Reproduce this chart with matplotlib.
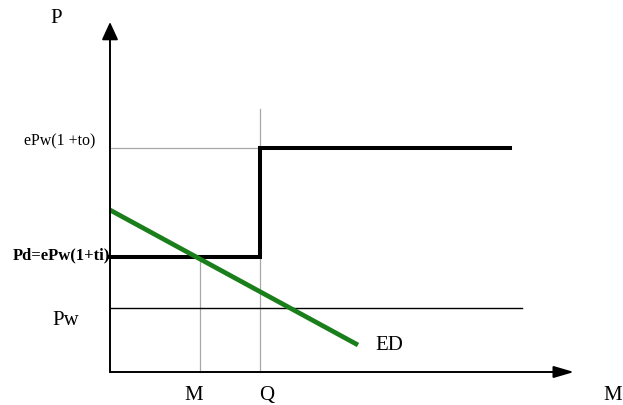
import matplotlib
matplotlib.use("Agg")
import matplotlib.pyplot as plt

# --- data (schematic units) ---
P_world = 6.4          # Pw
P_domestic = 11.5      # Pd = ePw(1+ti)
P_upper = 22.4         # ePw(1+to)
M_qty = 9.0            # M
Q_qty = 15.0           # Q
step_end = 40.0        # end of upper step
pw_end = 41.2          # end of Pw line
ed_x = [0.0, 24.8]     # excess demand line
ed_y = [16.2, 2.7]
x_axis_end = 46.4
y_axis_end = 35.0
q_line_top = 26.3

serif = ["Liberation Serif", "DejaVu Serif"]

fig = plt.figure(figsize=(6.23, 4.05), dpi=100)
ax = fig.add_axes([0, 0, 1, 1])
ax.set_xlim(-11.0, 51.3)
ax.set_ylim(-3.3, 37.2)
ax.axis("off")

grey = "#a8a8a8"
# guide lines
ax.plot([0, Q_qty], [P_upper, P_upper], color=grey, lw=0.9, zorder=1)
ax.plot([Q_qty, Q_qty], [0, q_line_top], color=grey, lw=0.9, zorder=1)
ax.plot([M_qty, M_qty], [0, P_domestic], color=grey, lw=0.9, zorder=1)

# Pw line
ax.plot([0, pw_end], [P_world, P_world], color="black", lw=1.0, zorder=2)

# step supply
ax.plot([0, Q_qty, Q_qty, step_end], [P_domestic, P_domestic, P_upper, P_upper],
        color="black", lw=2.9, solid_joinstyle="miter", zorder=3)

# ED line
ax.plot(ed_x, ed_y, color="#1a7f1a", lw=3.4, solid_capstyle="butt", zorder=4)

# axes with arrows
ax.annotate("", xy=(0, y_axis_end), xytext=(0, 0),
            arrowprops=dict(arrowstyle="-|>,head_length=0.72,head_width=0.33",
                            mutation_scale=15, lw=1.4, color="black",
                            shrinkA=0, shrinkB=0), zorder=5)
ax.annotate("", xy=(x_axis_end, 0), xytext=(0, 0),
            arrowprops=dict(arrowstyle="-|>,head_length=0.82,head_width=0.24",
                            mutation_scale=15, lw=1.4, color="black",
                            shrinkA=0, shrinkB=0), zorder=5)

# labels
big = 15
ax.text(-5.4, 34.9, "P", fontsize=big, family=serif, ha="center", va="baseline")
ax.text(-1.5, 22.7, "ePw(1 +to)", fontsize=11.5, family=serif, ha="right", va="baseline")
ax.text(0.0, 11.3, "Pd=ePw(1+ti)", fontsize=12, family=serif,
        fontweight="bold", ha="right", va="baseline")
ax.text(-4.4, 4.7, "Pw", fontsize=big, family=serif, ha="center", va="baseline")
ax.text(8.4, -2.8, "M", fontsize=big, family=serif, ha="center", va="baseline")
ax.text(15.7, -2.8, "Q", fontsize=big, family=serif, ha="center", va="baseline")
ax.text(50.3, -2.8, "M", fontsize=big, family=serif, ha="center", va="baseline")
ax.text(27.9, 2.25, "ED", fontsize=big, family=serif, ha="center", va="baseline")

fig.savefig("out.png", dpi=100)
